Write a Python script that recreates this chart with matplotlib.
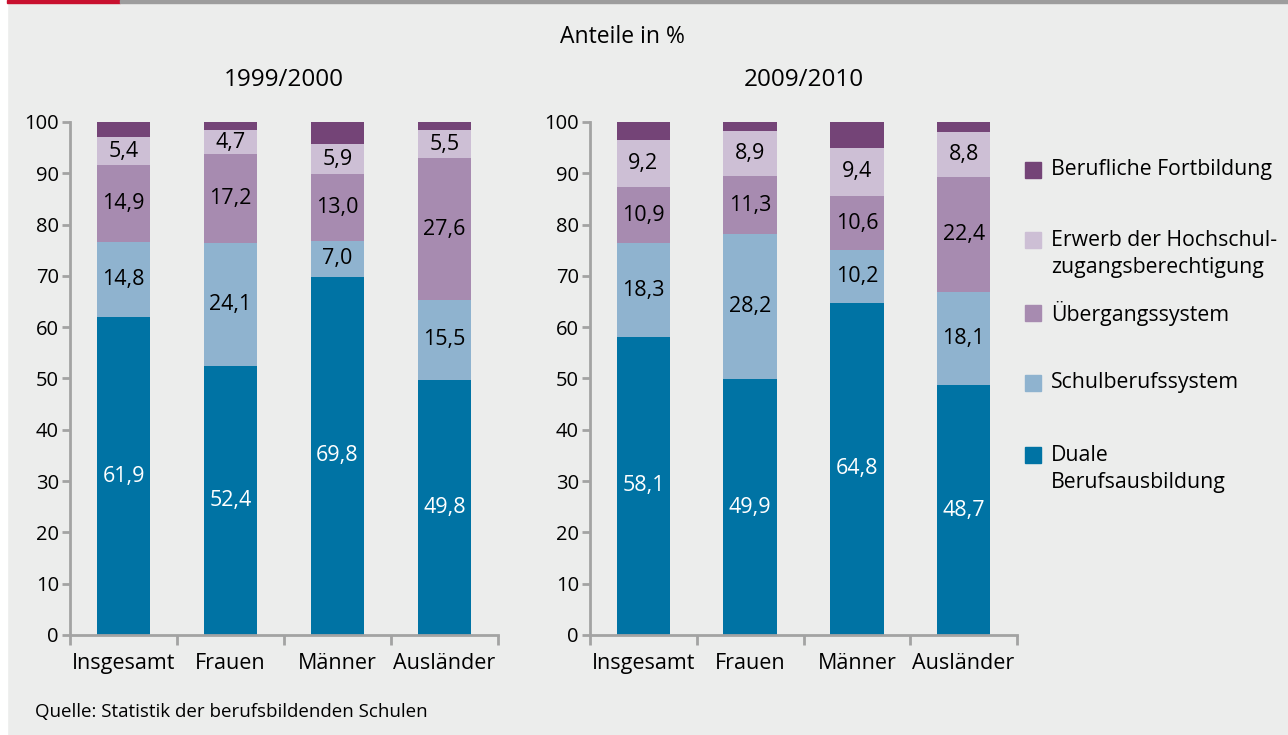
import matplotlib
matplotlib.use("Agg")
import matplotlib.pyplot as plt
from matplotlib.patches import Rectangle
import numpy as np

plt.rcParams['font.family'] = ['Open Sans', 'DejaVu Sans']

categories = ["Insgesamt", "Frauen", "Männer", "Ausländer"]
series_names = ["Duale\nBerufsausbildung", "Schulberufssystem", "Übergangssystem",
                "Erwerb der Hochschul-\nzugangsberechtigung", "Berufliche Fortbildung"]

duale_1999 = [61.9, 52.4, 69.8, 49.8]
schul_1999 = [14.8, 24.1, 7.0, 15.5]
uebergang_1999 = [14.9, 17.2, 13.0, 27.6]
hochschul_1999 = [5.4, 4.7, 5.9, 5.5]
fortbildung_1999 = [3.0, 1.6, 4.3, 1.6]

duale_2009 = [58.1, 49.9, 64.8, 48.7]
schul_2009 = [18.3, 28.2, 10.2, 18.1]
uebergang_2009 = [10.9, 11.3, 10.6, 22.4]
hochschul_2009 = [9.2, 8.9, 9.4, 8.8]
fortbildung_2009 = [3.5, 1.7, 5.0, 2.0]

colors = ["#0073a4", "#8fb3cf", "#a78bb0", "#cdbfd5", "#744477"]
label_colors = ["white", "black", "black", "black", None]

W, H = 1288, 735
bg = "#ecedec"
fig = plt.figure(figsize=(W / 100, H / 100), dpi=100, facecolor=bg)

# decorations
fig.patches.append(Rectangle((0, 0), 7 / W, 1, transform=fig.transFigure, color="white", zorder=0))
fig.patches.append(Rectangle((7 / W, 1 - 3 / H), 113 / W, 3 / H, transform=fig.transFigure, color="#c8102e", zorder=1))
fig.patches.append(Rectangle((120 / W, 1 - 3 / H), (W - 120) / W, 3 / H, transform=fig.transFigure, color="#9d9d9d", zorder=1))

spine_col = "#a3a3a3"
bottom_px, top_px = 635, 122

def make_panel(x0px, x1px, data, title):
    ax = fig.add_axes([x0px / W, 1 - bottom_px / H, (x1px - x0px) / W, (bottom_px - top_px) / H])
    ax.set_facecolor("none")
    x = np.arange(len(categories)) + 0.5
    bottom = np.zeros(len(categories))
    for vals, col, lc in zip(data, colors, label_colors):
        vals = np.array(vals)
        ax.bar(x, vals, width=0.5, bottom=bottom, color=col, clip_on=False, zorder=2)
        if lc is not None:
            for xi, b, v in zip(x, bottom, vals):
                ax.text(xi, b + v / 2, f"{v:.1f}".replace(".", ","), ha="center", va="center",
                        fontsize=15.5, color=lc, zorder=3)
        bottom += vals
    ax.set_xlim(0, 4)
    ax.set_ylim(0, 100)
    for s in ["top", "right"]:
        ax.spines[s].set_visible(False)
    for s in ["left", "bottom"]:
        ax.spines[s].set_color(spine_col)
        ax.spines[s].set_linewidth(2)
    ax.set_yticks(np.arange(0, 101, 10))
    ax.tick_params(axis="y", length=6, width=2, color=spine_col, labelsize=14.5, pad=2)
    ax.set_xticks(x)
    ax.set_xticklabels(categories)
    ax.tick_params(axis="x", length=0, labelsize=15.5, pad=13)
    ax.set_xticks(np.arange(0, 5), minor=True)
    ax.tick_params(axis="x", which="minor", length=7, width=2, color=spine_col)
    fig.text((x0px + x1px) / 2 / W, 1 - 80 / H, title, ha="center", va="center", fontsize=17.5)
    return ax

ax1 = make_panel(70, 498, [duale_1999, schul_1999, uebergang_1999, hochschul_1999, fortbildung_1999], "1999/2000")
ax2 = make_panel(590, 1017, [duale_2009, schul_2009, uebergang_2009, hochschul_2009, fortbildung_2009], "2009/2010")

fig.text(622 / W, 1 - 37 / H, "Anteile in %", ha="center", va="center", fontsize=16.5)
fig.text(35 / W, 1 - 712 / H, "Quelle: Statistik der berufsbildenden Schulen", ha="left", va="center", fontsize=13.5)

# legend
leg_items = [(series_names[4], colors[4], 170),
             (series_names[3], colors[3], 254),
             (series_names[2], colors[2], 313),
             (series_names[1], colors[1], 383),
             (series_names[0], colors[0], 469)]
for name, col, ypx in leg_items:
    first_line_y = ypx if "\n" not in name else ypx - 14
    fig.patches.append(Rectangle((1025 / W, 1 - (first_line_y + 8) / H), 16 / W, 16 / H,
                                 transform=fig.transFigure, color=col))
    fig.text(1051 / W, 1 - ypx / H, name, ha="left", va="center", fontsize=15.3, linespacing=1.42)

fig.savefig("out.png", dpi=100, facecolor=bg)
